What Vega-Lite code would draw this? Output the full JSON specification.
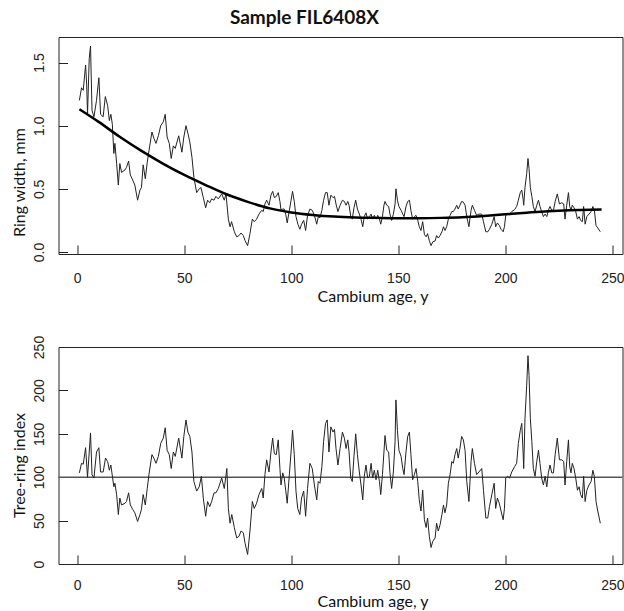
{
  "$schema": "https://vega.github.io/schema/vega-lite/v6.json",
  "padding": {"left": 10.5, "top": 8, "right": 0, "bottom": 0},
  "background": "white",
  "title": {"text": "Sample FIL6408X", "font": "Lato", "fontSize": 19, "fontWeight": "bold", "color": "#111", "anchor": "middle", "frame": "group", "dx": -36, "baseline": "middle", "offset": 0},
  "config": {
    "view": {"stroke": "#222", "strokeWidth": 1},
    "axis": {"domain": false, "grid": false, "tickColor": "#222", "labelFont": "Liberation Sans", "labelFontSize": 14, "labelColor": "#222", "titleFont": "Lato", "titleFontSize": 16, "titleFontWeight": "normal", "titleColor": "#111"},
    "line": {"strokeCap": "butt"}
  },
  "datasets": {
    "rw": [
      {"age":1,"width":1.20},{"age":2,"width":1.30},{"age":2.8,"width":1.28},{"age":3.9,"width":1.48},{"age":4.4,"width":1.33},{"age":4.8,"width":1.09},{"age":5.6,"width":1.53},{"age":6.2,"width":1.63},{"age":6.9,"width":1.12},{"age":7.8,"width":1.07},{"age":9,"width":1.20},{"age":10.1,"width":1.38},{"age":10.9,"width":1.09},{"age":12.1,"width":1.07},{"age":13.1,"width":1.23},{"age":14.2,"width":1.16},{"age":15,"width":1.04},{"age":15.7,"width":1.09},{"age":16.4,"width":1.01},{"age":17.1,"width":0.78},{"age":17.6,"width":0.86},{"age":18.4,"width":0.70},{"age":19.2,"width":0.53},{"age":19.9,"width":0.70},{"age":20.7,"width":0.63},{"age":22.3,"width":0.65},{"age":23,"width":0.67},{"age":24,"width":0.72},{"age":24.8,"width":0.61},{"age":25.9,"width":0.57},{"age":26.9,"width":0.53},{"age":28.2,"width":0.41},{"age":29.3,"width":0.49},{"age":30,"width":0.51},{"age":30.8,"width":0.69},{"age":31.8,"width":0.58},{"age":32.7,"width":0.71},{"age":33.5,"width":0.80},{"age":34.9,"width":0.95},{"age":35.8,"width":0.90},{"age":36.8,"width":0.86},{"age":37.9,"width":0.92},{"age":39,"width":1.00},{"age":40.2,"width":1.03},{"age":41.1,"width":1.09},{"age":42,"width":0.91},{"age":43,"width":0.86},{"age":43.9,"width":0.74},{"age":44.9,"width":0.84},{"age":45.8,"width":0.82},{"age":47.4,"width":0.92},{"age":48.9,"width":0.79},{"age":49.8,"width":0.91},{"age":50.8,"width":1.00},{"age":51.7,"width":0.94},{"age":52.6,"width":0.87},{"age":53.6,"width":0.75},{"age":54.5,"width":0.59},{"age":55.8,"width":0.47},{"age":57,"width":0.50},{"age":57.8,"width":0.51},{"age":58.9,"width":0.43},{"age":60,"width":0.35},{"age":60.9,"width":0.41},{"age":61.9,"width":0.39},{"age":62.8,"width":0.42},{"age":63.9,"width":0.41},{"age":64.8,"width":0.44},{"age":65.9,"width":0.42},{"age":67.5,"width":0.46},{"age":68.7,"width":0.41},{"age":69.5,"width":0.46},{"age":70.6,"width":0.26},{"age":71.4,"width":0.20},{"age":72.1,"width":0.24},{"age":73.4,"width":0.16},{"age":74.5,"width":0.12},{"age":75.6,"width":0.13},{"age":76.5,"width":0.15},{"age":77.6,"width":0.13},{"age":78.4,"width":0.09},{"age":79.6,"width":0.05},{"age":80.7,"width":0.145},{"age":81.8,"width":0.26},{"age":82.7,"width":0.24},{"age":83.8,"width":0.26},{"age":84.9,"width":0.30},{"age":86.2,"width":0.33},{"age":86.9,"width":0.32},{"age":87.7,"width":0.38},{"age":88.5,"width":0.41},{"age":89.6,"width":0.37},{"age":90.5,"width":0.45},{"age":91.3,"width":0.48},{"age":92.1,"width":0.43},{"age":93,"width":0.44},{"age":93.9,"width":0.47},{"age":94.7,"width":0.40},{"age":95.2,"width":0.33},{"age":96,"width":0.34},{"age":96.7,"width":0.34},{"age":97.4,"width":0.30},{"age":98.1,"width":0.23},{"age":99.1,"width":0.33},{"age":99.9,"width":0.41},{"age":100.6,"width":0.48},{"age":101.4,"width":0.40},{"age":102.2,"width":0.28},{"age":103.1,"width":0.22},{"age":104,"width":0.18},{"age":104.8,"width":0.22},{"age":105.8,"width":0.25},{"age":106.7,"width":0.17},{"age":107.6,"width":0.29},{"age":108.7,"width":0.34},{"age":109.8,"width":0.33},{"age":110.8,"width":0.29},{"age":111.9,"width":0.22},{"age":112.6,"width":0.28},{"age":113.4,"width":0.27},{"age":114.3,"width":0.33},{"age":115.1,"width":0.41},{"age":116,"width":0.47},{"age":116.8,"width":0.47},{"age":117.6,"width":0.37},{"age":118.5,"width":0.45},{"age":119.5,"width":0.43},{"age":120.2,"width":0.44},{"age":120.9,"width":0.38},{"age":121.8,"width":0.32},{"age":122.8,"width":0.37},{"age":123.9,"width":0.41},{"age":124.8,"width":0.40},{"age":125.6,"width":0.37},{"age":126.4,"width":0.40},{"age":127,"width":0.37},{"age":127.8,"width":0.28},{"age":128.5,"width":0.26},{"age":129.3,"width":0.35},{"age":130.1,"width":0.41},{"age":130.9,"width":0.34},{"age":131.8,"width":0.30},{"age":132.6,"width":0.26},{"age":133.4,"width":0.20},{"age":134.1,"width":0.28},{"age":134.9,"width":0.31},{"age":135.7,"width":0.26},{"age":136.5,"width":0.28},{"age":137.3,"width":0.30},{"age":138,"width":0.26},{"age":138.8,"width":0.29},{"age":139.6,"width":0.26},{"age":140.4,"width":0.29},{"age":141.2,"width":0.26},{"age":141.8,"width":0.22},{"age":142.6,"width":0.28},{"age":143.3,"width":0.37},{"age":143.8,"width":0.40},{"age":144.6,"width":0.37},{"age":145.5,"width":0.36},{"age":146.1,"width":0.30},{"age":146.9,"width":0.25},{"age":147.7,"width":0.30},{"age":148.5,"width":0.38},{"age":148.9,"width":0.50},{"age":149.6,"width":0.41},{"age":150.3,"width":0.36},{"age":151.3,"width":0.33},{"age":152.1,"width":0.30},{"age":152.7,"width":0.28},{"age":153.6,"width":0.36},{"age":154.4,"width":0.40},{"age":155.2,"width":0.41},{"age":155.9,"width":0.33},{"age":156.7,"width":0.26},{"age":157.5,"width":0.28},{"age":158.3,"width":0.29},{"age":159.1,"width":0.25},{"age":159.8,"width":0.20},{"age":160.6,"width":0.17},{"age":161.4,"width":0.24},{"age":162.2,"width":0.14},{"age":163,"width":0.12},{"age":163.7,"width":0.145},{"age":164.5,"width":0.09},{"age":165.3,"width":0.05},{"age":166.1,"width":0.08},{"age":167.2,"width":0.087},{"age":167.9,"width":0.13},{"age":168.7,"width":0.11},{"age":169.5,"width":0.13},{"age":170.4,"width":0.16},{"age":171.1,"width":0.20},{"age":171.8,"width":0.17},{"age":172.6,"width":0.20},{"age":173.4,"width":0.26},{"age":174.2,"width":0.29},{"age":175,"width":0.32},{"age":175.7,"width":0.32},{"age":176.5,"width":0.34},{"age":177.3,"width":0.37},{"age":178,"width":0.34},{"age":178.8,"width":0.37},{"age":179.6,"width":0.40},{"age":180.4,"width":0.395},{"age":181.2,"width":0.37},{"age":182,"width":0.28},{"age":183,"width":0.20},{"age":184,"width":0.33},{"age":184.6,"width":0.37},{"age":185.6,"width":0.33},{"age":186.6,"width":0.29},{"age":187.7,"width":0.30},{"age":189,"width":0.30},{"age":189.8,"width":0.24},{"age":190.9,"width":0.16},{"age":191.8,"width":0.16},{"age":192.6,"width":0.18},{"age":193.7,"width":0.22},{"age":194.8,"width":0.28},{"age":195.5,"width":0.20},{"age":196.3,"width":0.23},{"age":197.2,"width":0.21},{"age":198,"width":0.18},{"age":199,"width":0.16},{"age":199.6,"width":0.20},{"age":200.2,"width":0.29},{"age":201.1,"width":0.30},{"age":202,"width":0.30},{"age":203,"width":0.32},{"age":204.3,"width":0.335},{"age":205.3,"width":0.36},{"age":206.1,"width":0.41},{"age":207,"width":0.47},{"age":207.7,"width":0.49},{"age":208.3,"width":0.42},{"age":208.6,"width":0.37},{"age":209.2,"width":0.51},{"age":210,"width":0.62},{"age":210.6,"width":0.74},{"age":211.1,"width":0.66},{"age":211.7,"width":0.51},{"age":212.4,"width":0.44},{"age":213.1,"width":0.36},{"age":213.9,"width":0.32},{"age":214.7,"width":0.37},{"age":215.5,"width":0.41},{"age":216.2,"width":0.36},{"age":217,"width":0.32},{"age":217.8,"width":0.28},{"age":218.6,"width":0.30},{"age":219.4,"width":0.28},{"age":220.1,"width":0.33},{"age":220.9,"width":0.36},{"age":221.7,"width":0.33},{"age":222.5,"width":0.33},{"age":223.3,"width":0.40},{"age":224.3,"width":0.46},{"age":225.3,"width":0.38},{"age":226.4,"width":0.39},{"age":227.3,"width":0.38},{"age":227.9,"width":0.26},{"age":228.7,"width":0.37},{"age":229.5,"width":0.47},{"age":230.1,"width":0.36},{"age":230.7,"width":0.33},{"age":231.3,"width":0.37},{"age":232.1,"width":0.35},{"age":232.9,"width":0.32},{"age":233.7,"width":0.26},{"age":234.5,"width":0.28},{"age":235.2,"width":0.25},{"age":236,"width":0.24},{"age":236.6,"width":0.36},{"age":237.3,"width":0.22},{"age":238.1,"width":0.28},{"age":239.1,"width":0.30},{"age":240.1,"width":0.32},{"age":240.9,"width":0.36},{"age":241.6,"width":0.33},{"age":242.4,"width":0.21},{"age":243.2,"width":0.19},{"age":244.4,"width":0.16}
    ],
    "fit": [
      {"age":1,"width":1.13},{"age":10,"width":1.03},{"age":20,"width":0.91},{"age":30,"width":0.80},{"age":40,"width":0.70},{"age":50,"width":0.61},{"age":60,"width":0.53},{"age":70,"width":0.455},{"age":80,"width":0.395},{"age":90,"width":0.345},{"age":100,"width":0.313},{"age":110,"width":0.293},{"age":120,"width":0.28},{"age":130,"width":0.273},{"age":140,"width":0.27},{"age":150,"width":0.268},{"age":160,"width":0.268},{"age":170,"width":0.27},{"age":180,"width":0.275},{"age":190,"width":0.285},{"age":200,"width":0.298},{"age":210,"width":0.311},{"age":220,"width":0.323},{"age":230,"width":0.331},{"age":240,"width":0.335},{"age":245,"width":0.336}
    ],
    "idx": [
      {"age":1,"index":105},{"age":2,"index":116},{"age":2.8,"index":115},{"age":3.9,"index":134},{"age":4.8,"index":100},{"age":6.2,"index":151},{"age":6.9,"index":103},{"age":7.8,"index":99},{"age":9,"index":129},{"age":10.1,"index":134},{"age":10.9,"index":106},{"age":12.1,"index":106},{"age":13.2,"index":122},{"age":14.2,"index":118},{"age":15,"index":108},{"age":15.7,"index":114},{"age":16.2,"index":105},{"age":17.1,"index":89},{"age":17.6,"index":93},{"age":18.4,"index":80},{"age":19.2,"index":57},{"age":19.9,"index":76},{"age":20.7,"index":68},{"age":22.3,"index":70},{"age":23,"index":72},{"age":24,"index":82},{"age":24.8,"index":68},{"age":25.9,"index":63},{"age":26.9,"index":59},{"age":28.2,"index":49},{"age":29.3,"index":57},{"age":30,"index":63},{"age":30.8,"index":80},{"age":31.8,"index":68},{"age":32.7,"index":87},{"age":33.5,"index":103},{"age":34.9,"index":126},{"age":35.8,"index":122},{"age":36.8,"index":116},{"age":37.9,"index":124},{"age":39,"index":139},{"age":40.2,"index":145},{"age":41.1,"index":157},{"age":42,"index":131},{"age":43,"index":126},{"age":43.9,"index":110},{"age":44.9,"index":129},{"age":45.8,"index":124},{"age":47.4,"index":145},{"age":48.9,"index":122},{"age":49.8,"index":147},{"age":50.8,"index":166},{"age":51.7,"index":152},{"age":52.6,"index":147},{"age":53.6,"index":129},{"age":54.5,"index":95},{"age":55.8,"index":84},{"age":57,"index":89},{"age":58,"index":101},{"age":58.9,"index":76},{"age":60,"index":55},{"age":60.9,"index":72},{"age":61.9,"index":66},{"age":62.8,"index":72},{"age":63.9,"index":82},{"age":64.8,"index":82},{"age":65.9,"index":87},{"age":67.5,"index":99},{"age":68.7,"index":87},{"age":69.9,"index":110},{"age":70.6,"index":64},{"age":71.4,"index":47},{"age":72.2,"index":57},{"age":73.4,"index":42},{"age":74.5,"index":30},{"age":75.6,"index":32},{"age":76.5,"index":38},{"age":77.6,"index":36},{"age":78.4,"index":24},{"age":79.6,"index":11},{"age":80.7,"index":38},{"age":81.8,"index":72},{"age":82.7,"index":64},{"age":83.8,"index":70},{"age":84.9,"index":80},{"age":86.2,"index":87},{"age":86.9,"index":76},{"age":87.7,"index":103},{"age":88.5,"index":120},{"age":89.6,"index":106},{"age":90.5,"index":129},{"age":91.3,"index":145},{"age":92.1,"index":127},{"age":93,"index":126},{"age":93.9,"index":143},{"age":94.7,"index":110},{"age":95.2,"index":91},{"age":96,"index":105},{"age":96.7,"index":99},{"age":97.4,"index":85},{"age":98.1,"index":70},{"age":99.1,"index":103},{"age":99.9,"index":129},{"age":100.6,"index":154},{"age":101.4,"index":126},{"age":102.2,"index":84},{"age":103,"index":64},{"age":104,"index":57},{"age":104.8,"index":76},{"age":105.8,"index":84},{"age":106.7,"index":55},{"age":107.6,"index":87},{"age":108.7,"index":116},{"age":109.8,"index":110},{"age":110.8,"index":91},{"age":111.9,"index":74},{"age":112.6,"index":95},{"age":113.4,"index":93},{"age":114.3,"index":112},{"age":115.1,"index":141},{"age":116,"index":162},{"age":116.8,"index":166},{"age":117.6,"index":129},{"age":118.5,"index":158},{"age":119.5,"index":152},{"age":120.2,"index":155},{"age":120.9,"index":133},{"age":121.8,"index":114},{"age":122.8,"index":133},{"age":123.9,"index":152},{"age":124.8,"index":145},{"age":125.6,"index":133},{"age":126.4,"index":143},{"age":127,"index":129},{"age":127.8,"index":99},{"age":128.5,"index":95},{"age":129.3,"index":124},{"age":130.1,"index":150},{"age":130.9,"index":126},{"age":131.8,"index":106},{"age":132.6,"index":91},{"age":133.4,"index":74},{"age":134.1,"index":101},{"age":134.9,"index":114},{"age":135.7,"index":99},{"age":136.5,"index":101},{"age":137.3,"index":116},{"age":138,"index":99},{"age":138.8,"index":108},{"age":139.6,"index":97},{"age":140.4,"index":108},{"age":141.2,"index":95},{"age":141.8,"index":80},{"age":142.6,"index":103},{"age":143.3,"index":129},{"age":143.8,"index":148},{"age":144.6,"index":131},{"age":145.5,"index":129},{"age":146.1,"index":105},{"age":146.9,"index":87},{"age":147.7,"index":106},{"age":148.5,"index":141},{"age":148.9,"index":189},{"age":149.6,"index":154},{"age":150.3,"index":131},{"age":151.3,"index":124},{"age":152.1,"index":110},{"age":152.7,"index":103},{"age":153.6,"index":129},{"age":154.4,"index":147},{"age":155.2,"index":152},{"age":155.9,"index":126},{"age":156.7,"index":97},{"age":157.5,"index":103},{"age":158.3,"index":110},{"age":159.1,"index":95},{"age":159.8,"index":74},{"age":160.6,"index":61},{"age":161.4,"index":85},{"age":162.2,"index":51},{"age":163,"index":42},{"age":163.7,"index":53},{"age":164.5,"index":32},{"age":165.3,"index":19},{"age":166.1,"index":26},{"age":167.2,"index":30},{"age":167.9,"index":47},{"age":168.7,"index":38},{"age":169.5,"index":45},{"age":170.4,"index":57},{"age":171.1,"index":68},{"age":171.8,"index":59},{"age":172.6,"index":68},{"age":173.4,"index":93},{"age":174.2,"index":103},{"age":175,"index":118},{"age":175.7,"index":116},{"age":176.5,"index":126},{"age":177.3,"index":133},{"age":178,"index":122},{"age":178.8,"index":133},{"age":179.6,"index":147},{"age":180.4,"index":143},{"age":181.2,"index":131},{"age":182,"index":95},{"age":183,"index":72},{"age":184,"index":118},{"age":184.6,"index":133},{"age":185.6,"index":116},{"age":186.6,"index":103},{"age":187.7,"index":106},{"age":189,"index":110},{"age":189.8,"index":85},{"age":190.9,"index":53},{"age":191.8,"index":53},{"age":192.6,"index":66},{"age":193.7,"index":80},{"age":194.8,"index":93},{"age":195.5,"index":64},{"age":196.3,"index":76},{"age":197.2,"index":70},{"age":198,"index":61},{"age":199,"index":51},{"age":199.6,"index":64},{"age":200.2,"index":99},{"age":201.1,"index":101},{"age":202,"index":99},{"age":203,"index":106},{"age":204.3,"index":112},{"age":205.3,"index":116},{"age":206.1,"index":139},{"age":207,"index":154},{"age":207.7,"index":162},{"age":208.3,"index":129},{"age":208.6,"index":110},{"age":209.2,"index":168},{"age":210,"index":206},{"age":210.6,"index":240},{"age":211.1,"index":217},{"age":211.7,"index":168},{"age":212.4,"index":141},{"age":213.1,"index":110},{"age":213.9,"index":101},{"age":214.7,"index":118},{"age":215.5,"index":131},{"age":216.2,"index":116},{"age":217,"index":99},{"age":217.8,"index":91},{"age":218.6,"index":101},{"age":219.4,"index":89},{"age":220.1,"index":105},{"age":220.9,"index":114},{"age":221.7,"index":105},{"age":222.5,"index":105},{"age":223.3,"index":126},{"age":224.3,"index":145},{"age":225.3,"index":120},{"age":226.4,"index":120},{"age":227.3,"index":118},{"age":227.9,"index":91},{"age":228.7,"index":118},{"age":229.5,"index":143},{"age":230.1,"index":112},{"age":230.7,"index":105},{"age":231.3,"index":116},{"age":232.1,"index":110},{"age":232.9,"index":99},{"age":233.7,"index":85},{"age":234.5,"index":89},{"age":235.2,"index":80},{"age":236,"index":76},{"age":236.6,"index":101},{"age":237.3,"index":72},{"age":238.1,"index":85},{"age":239.1,"index":91},{"age":240.1,"index":95},{"age":240.9,"index":108},{"age":241.6,"index":101},{"age":242.4,"index":72},{"age":243.2,"index":61},{"age":244.4,"index":47}
    ],
    "ref": [{"level": 100}]
  },
  "vconcat": [
    {
      "width": 564,
      "height": 217,
      "layer": [
        {
          "data": {"name": "rw"},
          "mark": {"type": "line", "color": "#222", "strokeWidth": 1},
          "encoding": {
            "x": {"field": "age", "type": "quantitative", "scale": {"domain": [-8.76, 254.76], "nice": false, "zero": false},
              "axis": {"values": [0, 50, 100, 150, 200, 250], "tickSize": -9, "labelPadding": 26, "title": "Cambium age, y", "titleX": 314, "titleY": 42, "titleBaseline": "middle", "titleAlign": "center"}},
            "y": {"field": "width", "type": "quantitative", "scale": {"domain": [-0.016, 1.702], "nice": false, "zero": false},
              "axis": {"values": [0, 0.5, 1, 1.5], "format": ".1f", "tickSize": -9, "labelPadding": 27.6, "labelAngle": 270, "labelAlign": "center", "labelBaseline": "middle", "title": "Ring width, mm", "titleX": -38.6, "titleY": 145, "titleBaseline": "middle", "titleAlign": "center", "titleAngle": 270}}
          }
        },
        {
          "data": {"name": "fit"},
          "mark": {"type": "line", "color": "#000", "strokeWidth": 2.5, "interpolate": "monotone"},
          "encoding": {
            "x": {"field": "age", "type": "quantitative"},
            "y": {"field": "width", "type": "quantitative"}
          }
        }
      ]
    },
    {
      "width": 564,
      "height": 217,
      "layer": [
        {
          "data": {"name": "ref"},
          "mark": {"type": "rule", "color": "#555", "strokeWidth": 1.5},
          "encoding": {"y": {"field": "level", "type": "quantitative"}}
        },
        {
          "data": {"name": "idx"},
          "mark": {"type": "line", "color": "#222", "strokeWidth": 1},
          "encoding": {
            "x": {"field": "age", "type": "quantitative", "scale": {"domain": [-8.76, 254.76], "nice": false, "zero": false},
              "axis": {"values": [0, 50, 100, 150, 200, 250], "tickSize": -9, "labelPadding": 23, "title": "Cambium age, y", "titleX": 314, "titleY": 37.5, "titleBaseline": "middle", "titleAlign": "center"}},
            "y": {"field": "index", "type": "quantitative", "scale": {"domain": [0, 250], "nice": false, "zero": false},
              "axis": {"values": [0, 50, 100, 150, 200, 250], "tickSize": -9, "labelPadding": 27.6, "labelAngle": 270, "labelAlign": "center", "labelBaseline": "middle", "title": "Tree-ring index", "titleX": -38.6, "titleY": 118, "titleBaseline": "middle", "titleAlign": "center", "titleAngle": 270}}
          }
        }
      ]
    }
  ],
  "spacing": 93,
  "bounds": "flush",
  "resolve": {"scale": {"x": "independent", "y": "independent"}}
}
